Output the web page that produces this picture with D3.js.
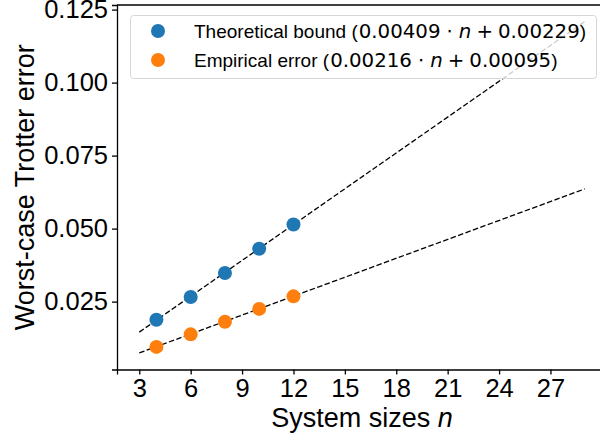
<!DOCTYPE html>
<html>
<head>
<meta charset="utf-8">
<script src="https://cdn.jsdelivr.net/npm/d3@7"></script>
<style>
  body { margin: 0; background: #fff; }
  svg { display: block; }
</style>
</head>
<body>
<div id="chart"></div>
<script>
// System sizes measured
const sizes = [4, 6, 8, 10, 12];
// Worst-case Trotter error per system size
const theoreticalBound = [0.0188, 0.0266, 0.0348, 0.0431, 0.0514];
const empiricalError = [0.0095, 0.0138, 0.0181, 0.0225, 0.0268];
// Linear fits (slope, intercept) shown in the legend
const fitSlopes = [0.00409, 0.00216];
const fitIntercepts = [0.00229, 0.00095];
const fitRange = [3, 29];
const seriesNames = ["Theoretical bound", "Empirical error"];
const seriesColors = ["#1f77b4", "#ff7f0e"];
const xTicks = [3, 6, 9, 12, 15, 18, 21, 24, 27];
const yTicks = [0.025, 0.05, 0.075, 0.1, 0.125];

var width = 600;
var height = 438;
var margin = { top: 5, right: -7, bottom: 68.5, left: 117 };

var font = "'Liberation Sans', Arial, Helvetica, sans-serif";
var mathFont = "'DejaVu Sans', sans-serif";

var svg = d3
  .select("#chart")
  .append("svg")
  .attr("width", width)
  .attr("height", height);

// x limits padded by 5% around the fit range, like matplotlib
var xPad = (fitRange[1] - fitRange[0]) * 0.05;
var x = d3
  .scaleLinear()
  .domain([fitRange[0] - xPad, fitRange[1] + xPad])
  .range([margin.left, width - margin.right]);

var yLo = fitSlopes[1] * fitRange[0] + fitIntercepts[1];
var yHi = fitSlopes[0] * fitRange[1] + fitIntercepts[0];
var yPad = (yHi - yLo) * 0.05;
var y = d3
  .scaleLinear()
  .domain([yLo - yPad, yHi + yPad])
  .range([height - margin.bottom, margin.top]);

// Axes
var xAxis = svg
  .append("g")
  .attr("transform", "translate(0," + (height - margin.bottom) + ")")
  .call(d3.axisBottom(x).tickValues(xTicks).tickSize(5).tickPadding(4));

var yAxis = svg
  .append("g")
  .attr("transform", "translate(" + margin.left + ",0)")
  .call(
    d3.axisLeft(y).tickValues(yTicks).tickFormat(d3.format(".3f")).tickSize(5).tickPadding(4)
  );

[xAxis, yAxis].forEach(function (ax) {
  ax.selectAll("path").attr("stroke", "#000").attr("stroke-width", 1.3);
  ax.selectAll("line").attr("stroke", "#000").attr("stroke-width", 1.3);
  ax.selectAll("text")
    .attr("fill", "#000")
    .style("font-family", font)
    .style("font-size", "25.5px");
});

// top spine (right spine falls outside the picture)
svg
  .append("line")
  .attr("x1", margin.left)
  .attr("x2", width - margin.right)
  .attr("y1", margin.top)
  .attr("y2", margin.top)
  .attr("stroke", "#000")
  .attr("stroke-width", 1.3);

// Dashed fit lines
fitSlopes.forEach(function (m, i) {
  var pts = fitRange.map(function (n) {
    return [x(n), y(m * n + fitIntercepts[i])];
  });
  svg
    .append("path")
    .attr("d", d3.line()(pts))
    .attr("fill", "none")
    .attr("stroke", "#000")
    .attr("stroke-width", 1.3)
    .attr("stroke-dasharray", "5.5,2.4");
});

// Scatter points
[theoreticalBound, empiricalError].forEach(function (vals, i) {
  svg
    .append("g")
    .selectAll("circle")
    .data(vals)
    .enter()
    .append("circle")
    .attr("cx", function (d, j) {
      return x(sizes[j]);
    })
    .attr("cy", function (d) {
      return y(d);
    })
    .attr("r", 7)
    .attr("fill", seriesColors[i]);
});

// Axis labels
svg
  .append("text")
  .attr("x", (margin.left + width - margin.right) / 2)
  .attr("y", 427)
  .attr("text-anchor", "middle")
  .style("font-family", font)
  .style("font-size", "27px")
  .call(function (t) {
    t.append("tspan").text("System sizes ");
    t.append("tspan").style("font-style", "italic").text("n");
  });

svg
  .append("text")
  .attr("transform", "translate(34," + (margin.top + height - margin.bottom) / 2 + ") rotate(-90)")
  .attr("text-anchor", "middle")
  .style("font-family", font)
  .style("font-size", "27px")
  .text("Worst-case Trotter error");

// Legend
var legend = svg.append("g");
legend
  .append("rect")
  .attr("x", 130.5)
  .attr("y", 15.5)
  .attr("width", 466)
  .attr("height", 63)
  .attr("rx", 3)
  .attr("fill", "#fff")
  .attr("fill-opacity", 0.8)
  .attr("stroke", "#d6d6d6")
  .attr("stroke-width", 1);

var fmt5 = d3.format(".5f");
seriesNames.forEach(function (name, i) {
  var rowY = 31 + i * 29;
  legend
    .append("circle")
    .attr("cx", 158)
    .attr("cy", rowY)
    .attr("r", 7)
    .attr("fill", seriesColors[i]);
  var t = legend
    .append("text")
    .attr("x", 194)
    .attr("y", rowY + 6.5)
    .style("font-family", font)
    .style("font-size", "19px");
  t.append("tspan").text(name + " (");
  // mathtext part: slope · n + intercept
  var m = function (s) {
    return t.append("tspan").style("font-family", mathFont).style("font-size", "19.8px").text(s);
  };
  m(fmt5(fitSlopes[i])).attr("dx", 1);
  m("\u22c5").attr("dx", 6);
  m("n").attr("dx", 6).style("font-style", "italic");
  m("+").attr("dx", 5);
  m(fmt5(fitIntercepts[i])).attr("dx", 5);
  t.append("tspan").text(")");
});
</script>
</body>
</html>
